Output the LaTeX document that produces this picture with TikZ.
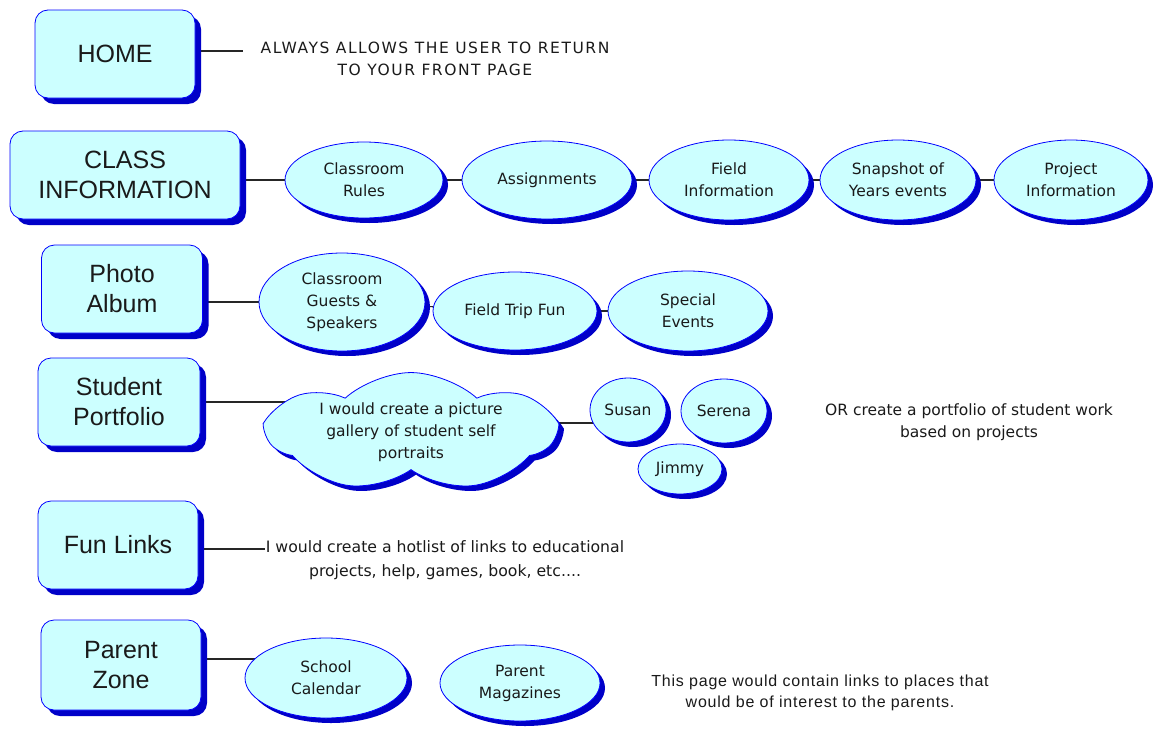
\documentclass[tikz,border=0pt]{standalone}
\usepackage{fontspec}
\setmainfont{DejaVu Sans}
\newfontfamily\boxfont{Liberation Sans}
\newfontfamily\capsfont[LetterSpace=10]{DejaVu Sans}
\newfontfamily\narrowfont[LetterSpace=5]{Liberation Sans}
\usetikzlibrary{shapes.geometric,shapes.symbols,shadows}
\definecolor{cyanfill}{HTML}{CCFFFF}
\definecolor{edgeblue}{HTML}{0000FF}
\definecolor{shadowblue}{HTML}{0000C8}
\definecolor{ink}{HTML}{1A1A1A}
\pgfdeclarelayer{background}
\pgfsetlayers{background,main}
\begin{document}
\begin{tikzpicture}[x=1pt,y=-1pt,
  boxshad/.style={drop shadow={shadow xshift=6pt,shadow yshift=-6pt,fill=shadowblue,opacity=1}},
  elshad/.style={drop shadow={shadow xshift=5pt,shadow yshift=-5pt,fill=shadowblue,opacity=1}},
  topic/.style={draw=edgeblue,fill=cyanfill,rounded corners=13pt,line width=0.8pt,boxshad,
    minimum width=160pt,minimum height=88pt,inner sep=0pt,align=center,
    font=\boxfont\fontsize{25}{30}\selectfont,text=ink},
  sub/.style={ellipse,draw=edgeblue,fill=cyanfill,line width=0.8pt,elshad,inner sep=0pt,
    align=center,font=\fontsize{15.5}{22}\selectfont,text=ink},
  note/.style={align=center,font=\fontsize{15.5}{22}\selectfont,text=ink,inner sep=0pt},
  link/.style={draw=black!85,line width=1.1pt}
]
\useasboundingbox (0,0) rectangle (1156,728);

% row 1
\node[topic] (home) at (115,54) {HOME};
\node[note,font=\capsfont\fontsize{15.5}{22}\selectfont] (homenote) at (435,59)
  {ALWAYS ALLOWS THE USER TO RETURN\\TO YOUR FRONT PAGE};
\coordinate (homeend) at (243,51);

% row 2
\node[topic,minimum width=230pt] (classinfo) at (125,175) {CLASS\\INFORMATION};
\node[sub,minimum width=158pt,minimum height=76pt] (cr) at (364,180) {Classroom\\Rules};
\node[sub,minimum width=170pt,minimum height=78pt] (asg) at (547,180) {Assignments};
\node[sub,minimum width=160pt,minimum height=80pt] (fi) at (729,180) {Field\\Information};
\node[sub,minimum width=156pt,minimum height=80pt] (snap) at (898,180) {Snapshot of\\Years events};
\node[sub,minimum width=154pt,minimum height=80pt] (proj) at (1071,180) {Project\\Information};

% row 3
\node[topic,minimum width=161pt] (photo) at (122,289) {Photo\\Album};
\node[sub,minimum width=166pt,minimum height=98pt] (cgs) at (342,302) {Classroom\\Guests \&\\Speakers};
\node[sub,minimum width=164pt,minimum height=78pt] (ftf) at (515,311) {Field Trip Fun};
\node[sub,minimum width=160pt,minimum height=80pt] (spe) at (688,311) {Special\\Events};

% row 4
\node[topic,minimum width=162pt] (student) at (119,402) {Student\\Portfolio};
\node[cloud,cloud puffs=7,cloud puff arc=85,cloud ignores aspect,draw=edgeblue,fill=cyanfill,
  line width=0.8pt,elshad,minimum width=286pt,minimum height=108pt,inner sep=0pt,
  align=center,font=\fontsize{15.5}{22}\selectfont,text=ink]
  (cloud) at (411,432) {I would create a picture\\gallery of student self\\portraits};
\node[sub,minimum width=76pt,minimum height=64pt] (susan) at (628,410) {Susan};
\node[sub,minimum width=86pt,minimum height=64pt] (serena) at (724,411) {Serena};
\node[sub,minimum width=84pt,minimum height=50pt] (jimmy) at (680,469) {Jimmy};
\node[note] (ornote) at (969,422) {OR create a portfolio of student work\\based on projects};
\coordinate (cs) at (600,423);

% row 5
\node[topic] (funlinks) at (118,545) {Fun Links};
\node[note,font=\fontsize{15.7}{24}\selectfont] (funnote) at (445,560)
  {I would create a hotlist of links to educational\\projects, help, games, book, etc....};
\coordinate (fl) at (265,549);

% row 6
\node[topic,minimum height=90pt] (parent) at (121,665) {Parent\\Zone};
\node[sub,minimum width=162pt,minimum height=80pt] (sc) at (326,678) {School\\Calendar};
\node[sub,minimum width=160pt,minimum height=76pt] (pm) at (520,683) {Parent\\Magazines};
\node[note,font=\narrowfont\fontsize{16}{21}\selectfont] (pnote) at (820,693)
  {This page would contain links to places that\\would be of interest to the parents.};
\coordinate (pz) at (250,659);

\begin{pgfonlayer}{background}
  \fill[white] (0,0) rectangle (1156,728);
  \draw[link] (homeend -| home.center) -- (homeend);
  \draw[link] (classinfo.center |- cr.center) -- (cr.center);
  \draw[link] (cr) -- (asg);
  \draw[link] (asg) -- (fi);
  \draw[link] (fi) -- (snap);
  \draw[link] (snap) -- (proj);
  \draw[link] (photo.center |- cgs.center) -- (cgs.center);
  \draw[link] (cgs) -- (ftf);
  \draw[link] (ftf) -- (spe);
  \draw[link] (student.center) -- (student.center -| cloud.center);
  \draw[link] (cs -| cloud.center) -- (cs -| susan.center);
  \draw[link] (fl -| funlinks.center) -- (fl);
  \draw[link] (pz -| parent.center) -- (pz -| sc.center);
\end{pgfonlayer}
\end{tikzpicture}
\end{document}
